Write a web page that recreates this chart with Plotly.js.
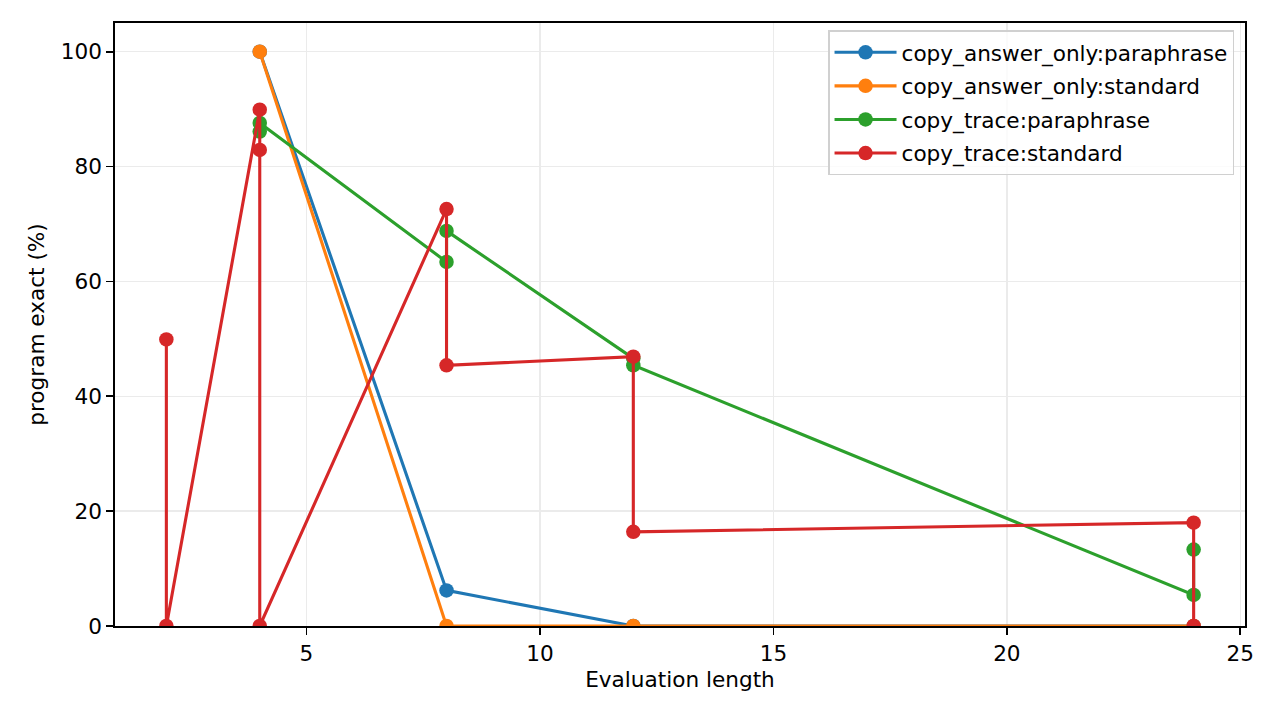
<!DOCTYPE html>
<html>
<head>
<meta charset="utf-8">
<script src="https://cdn.plot.ly/plotly-3.0.1.min.js"></script>
<style>html,body{margin:0;padding:0;background:#fff;}#chart{width:1280px;height:720px;}</style>
</head>
<body>
<div id="chart"></div>
<script>
// Series data
const seriesNames = ["copy_answer_only:paraphrase", "copy_answer_only:standard", "copy_trace:paraphrase", "copy_trace:standard"];
const seriesColors = ["#1f77b4", "#ff7f0e", "#2ca02c", "#d62728"];

const answerParaX = [4, 8, 12, 24];
const answerParaY = [100, 6.2, 0, 0];

const answerStdX = [4, 8, 12, 24];
const answerStdY = [100, 0, 0, 0];

const traceParaX = [4, 4, 8, 8, 12, 12, 24, 24];
const traceParaY = [86.1, 87.6, 63.4, 68.8, 46.6, 45.4, 5.4, 13.3];

const traceStdX = [2, 2, 4, 4, 4, 8, 8, 12, 12, 24, 24];
const traceStdY = [49.9, 0, 89.9, 82.9, 0, 72.6, 45.4, 46.9, 16.4, 18.0, 0];

const xTicks = [5, 10, 15, 20, 25];
const yTicks = [0, 20, 40, 60, 80, 100];

const xs = [answerParaX, answerStdX, traceParaX, traceStdX];
const ys = [answerParaY, answerStdY, traceParaY, traceStdY];

const traces = seriesNames.map((name, i) => ({
  type: "scatter",
  mode: "lines+markers",
  name: name,
  x: xs[i],
  y: ys[i],
  legendgroup: "g" + i,
  line: {color: seriesColors[i], width: 3.1},
  marker: {color: seriesColors[i], size: 14.5}
}));

const fontFam = "DejaVu Sans, sans-serif";
const fs = 21.6;

const layout = {
  width: 1280,
  height: 720,
  margin: {l: 115, r: 35, t: 23, b: 94},
  paper_bgcolor: "#ffffff",
  plot_bgcolor: "#ffffff",
  font: {family: fontFam, size: fs, color: "#000"},
  showlegend: true,
  legend: {
    x: 0.9903, y: 0.988, xanchor: "right", yanchor: "top",
    bordercolor: "#d0d0d0", borderwidth: 1.5, bgcolor: "rgba(255,255,255,0.8)",
    font: {family: fontFam, size: fs, color: "#000"},
    traceorder: "grouped", tracegroupgap: 2.5,
    itemwidth: 62
  },
  xaxis: {
    range: [0.9, 25.1],
    tickvals: xTicks,
    ticktext: xTicks.map(String),
    showgrid: true, gridcolor: "#ebebeb", gridwidth: 1.5,
    zeroline: false,
    showline: true, linecolor: "#000", linewidth: 1.7, mirror: true,
    ticks: "outside", ticklen: 7, tickwidth: 1.7, tickcolor: "#000",
    tickfont: {family: fontFam, size: fs, color: "#000"},
    title: {text: "Evaluation length", font: {family: fontFam, size: fs, color: "#000"}, standoff: 7}
  },
  yaxis: {
    range: [0, 105],
    tickvals: yTicks,
    ticktext: yTicks.map(String),
    showgrid: true, gridcolor: "#ebebeb", gridwidth: 1.5,
    zeroline: false,
    showline: true, linecolor: "#000", linewidth: 1.7, mirror: true,
    ticks: "outside", ticklen: 7, tickwidth: 1.7, tickcolor: "#000",
    tickfont: {family: fontFam, size: fs, color: "#000"},
    title: {text: "program exact (%)", font: {family: fontFam, size: fs, color: "#000"}, standoff: 10}
  }
};

Plotly.newPlot("chart", traces, layout, {displayModeBar: false, staticPlot: true});
</script>
</body>
</html>
